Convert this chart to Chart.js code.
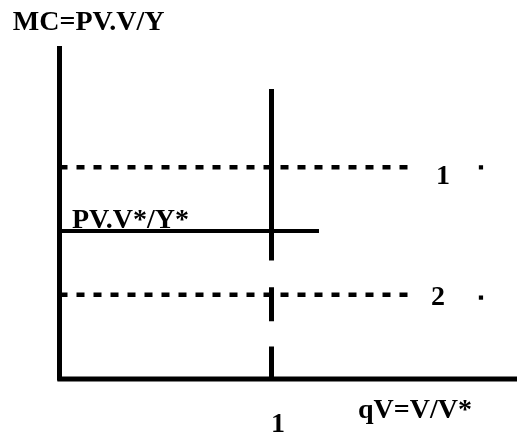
<!DOCTYPE html>
<html>
<head>
<meta charset="utf-8">
<script src="https://cdn.jsdelivr.net/npm/chart.js@4/dist/chart.umd.min.js"></script>
<style>
    html, body { margin: 0; padding: 0; background: #fff; }
    canvas { display: block; }
</style>
</head>
<body>
<canvas id="mcChart" width="517" height="437"></canvas>
<script>
// Diagram values (x: qV = V/V*, y: MC relative to PV.V*/Y*)
const xTicks = [1];
const upperLevel = 1.43;     // dashed line 1
const baseLevel = 1;         // PV.V*/Y*
const lowerLevel = 0.57;     // dashed line 2
const dashedEnd = 1.68;
const baseEnd = 1.224;
const markerX = 1.988;
const markerY = [1.43, 0.55];
const verticalSegments = [[1.96, 0.8], [0.62, 0.39], [0.22, 0]];
const axisMaxX = 2.158;
const axisMaxY = 2.25;

const labelTexts = ['MC=PV.V/Y', 'PV.V*/Y*', '1', '2', '1', 'qV=V/V*'];

// Build vertical line with gaps (null breaks the line)
const verticalData = [];
verticalSegments.forEach(function(seg) {
    verticalData.push({ x: 1, y: seg[0] });
    verticalData.push({ x: 1, y: seg[1] });
    verticalData.push({ x: 1, y: null });
});

function lineSet(data, width, dash) {
    return {
        data: data,
        showLine: true,
        borderColor: '#000',
        borderWidth: width,
        borderDash: dash || [],
        pointRadius: 0,
        spanGaps: false,
        clip: false
    };
}

// Where each text sits, in data units
const labelPlacement = [
    { x: -0.22, y: 2.358, align: 'left' },
    { x: 0.059, y: 1.02, align: 'left' },
    { x: 1.776, y: 1.318, align: 'left' },
    { x: 1.752, y: 0.5, align: 'left' },
    { x: 0.998, y: -0.358, align: 'left' },
    { x: 1.408, y: -0.264, align: 'left' }
];

const textPlugin = {
    id: 'diagramText',
    afterDatasetsDraw: function(chart) {
        const ctx = chart.ctx;
        const xs = chart.scales.x;
        const ys = chart.scales.y;
        ctx.save();
        ctx.fillStyle = '#000';
        ctx.font = 'bold 28px "Liberation Serif", "DejaVu Serif", serif';
        ctx.textBaseline = 'alphabetic';
        labelTexts.forEach(function(txt, i) {
            const p = labelPlacement[i];
            ctx.textAlign = p.align;
            ctx.fillText(txt, xs.getPixelForValue(p.x), ys.getPixelForValue(p.y));
        });
        ctx.restore();
    }
};

const ctx = document.getElementById('mcChart').getContext('2d');
new Chart(ctx, {
    type: 'scatter',
    data: {
        datasets: [
            // axes
            lineSet([{ x: 0, y: axisMaxY }, { x: 0, y: -0.01 }], 5),
            lineSet([{ x: -0.01, y: 0 }, { x: axisMaxX, y: 0 }], 5),
            // price levels
            lineSet([{ x: 0, y: upperLevel }, { x: dashedEnd, y: upperLevel }], 4.5, [8, 9]),
            lineSet([{ x: 0, y: baseLevel }, { x: baseEnd, y: baseLevel }], 4),
            lineSet([{ x: 0, y: lowerLevel }, { x: dashedEnd, y: lowerLevel }], 4.5, [8, 9]),
            // qV = 1
            lineSet(verticalData, 5),
            {
                data: markerY.map(function(v) { return { x: markerX, y: v }; }),
                showLine: false,
                pointStyle: 'rect',
                pointRadius: 3,
                backgroundColor: '#000',
                borderColor: '#000',
                borderWidth: 0,
                clip: false
            }
        ]
    },
    options: {
        responsive: false,
        animation: false,
        events: [],
        layout: {
            autoPadding: false,
            padding: { left: 59.5, right: 0, top: 46, bottom: 58 }
        },
        plugins: {
            legend: { display: false },
            tooltip: { enabled: false }
        },
        scales: {
            x: {
                type: 'linear',
                display: false,
                min: 0,
                max: axisMaxX,
                afterBuildTicks: function(scale) {
                    scale.ticks = xTicks.map(function(v) { return { value: v }; });
                }
            },
            y: {
                type: 'linear',
                display: false,
                min: 0,
                max: axisMaxY
            }
        }
    },
    plugins: [textPlugin]
});
</script>
</body>
</html>
